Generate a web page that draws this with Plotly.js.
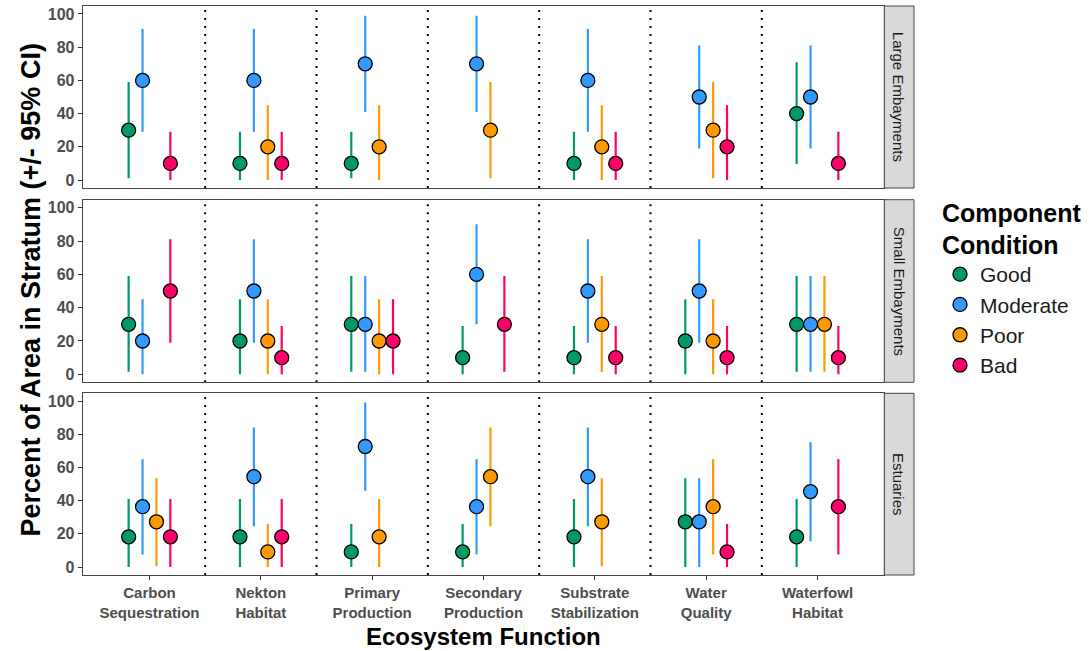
<!DOCTYPE html>
<html>
<head>
<meta charset="utf-8">
<script src="https://cdn.plot.ly/plotly-3.0.1.min.js"></script>
<style>html,body{margin:0;padding:0;background:#fff}</style>
</head>
<body>
<div id="chart" style="width:1090px;height:651px"></div>
<script>
// Ecosystem functions (x categories) and their two-line tick labels
const functionLabels = [
  'Carbon<br>Sequestration', 'Nekton<br>Habitat', 'Primary<br>Production',
  'Secondary<br>Production', 'Substrate<br>Stabilization', 'Water<br>Quality',
  'Waterfowl<br>Habitat'
];
const conditions = ['Good', 'Moderate', 'Poor', 'Bad'];
const conditionColors = ['#009966', '#3399FF', '#FF9900', '#FF0066'];
const strata = ['Large Embayments', 'Small Embayments', 'Estuaries'];

// Large Embayments: estimate, lower and upper 95% CI (percent of area)
const largeGood     = [30, 10, 10, null, 10, null, 40];
const largeGoodLo   = [1, 0, 1, null, 0, null, 9.6];
const largeGoodHi   = [59, 29, 29, null, 29, null, 71];
const largeMod      = [60, 60, 70, 70, 60, 50, 50];
const largeModLo    = [29, 29, 41, 41, 29, 19, 19];
const largeModHi    = [91, 91, 99, 99, 91, 81, 81];
const largePoor     = [null, 20, 20, 30, 20, 30, null];
const largePoorLo   = [null, 0, 0, 1, 0, 1, null];
const largePoorHi   = [null, 45, 45, 59, 45, 59, null];
const largeBad      = [10, 10, null, null, 10, 20, 10];
const largeBadLo    = [0, 0, null, null, 0, 0, 0];
const largeBadHi    = [29, 29, null, null, 29, 45, 29];

// Small Embayments
const smallGood     = [30, 20, 30, 10, 10, 20, 30];
const smallGoodLo   = [1.6, 0, 1.6, 0, 0, 0, 1.6];
const smallGoodHi   = [59, 45, 59, 29, 29, 45, 59];
const smallMod      = [20, 50, 30, 60, 50, 50, 30];
const smallModLo    = [0, 19, 1.6, 30, 19, 19, 1.6];
const smallModHi    = [45, 81, 59, 90, 81, 81, 59];
const smallPoor     = [null, 20, 20, null, 30, 20, 30];
const smallPoorLo   = [null, 0, 0, null, 1.6, 0, 1.6];
const smallPoorHi   = [null, 45, 45, null, 59, 45, 59];
const smallBad      = [50, 10, 20, 30, 10, 10, 10];
const smallBadLo    = [19, 0, 0, 1.6, 0, 0, 0];
const smallBadHi    = [81, 29, 45, 59, 29, 29, 29];

// Estuaries
const estGood       = [18.2, 18.2, 9.1, 9.1, 18.2, 27.3, 18.2];
const estGoodLo     = [0, 0, 0, 0, 0, 0, 0];
const estGoodHi     = [41, 41, 26, 26, 41, 53.6, 41];
const estMod        = [36.4, 54.5, 72.7, 36.4, 54.5, 27.3, 45.5];
const estModLo      = [7.6, 24.6, 46, 7.6, 24.6, 0, 15.6];
const estModHi      = [65, 84.2, 99.2, 65, 84.2, 53.6, 75.2];
const estPoor       = [27.3, 9.1, 18.2, 54.5, 27.3, 36.4, null];
const estPoorLo     = [0.5, 0, 0, 24.6, 0.5, 7.6, null];
const estPoorHi     = [53.6, 26, 41, 84.2, 53.6, 65, null];
const estBad        = [18.2, 18.2, null, null, null, 9.1, 36.4];
const estBadLo      = [0, 0, null, null, null, 0, 7.6];
const estBadHi      = [41, 41, null, null, null, 26, 65];

const panelData = [
  [[largeGood, largeGoodLo, largeGoodHi], [largeMod, largeModLo, largeModHi],
   [largePoor, largePoorLo, largePoorHi], [largeBad, largeBadLo, largeBadHi]],
  [[smallGood, smallGoodLo, smallGoodHi], [smallMod, smallModLo, smallModHi],
   [smallPoor, smallPoorLo, smallPoorHi], [smallBad, smallBadLo, smallBadHi]],
  [[estGood, estGoodLo, estGoodHi], [estMod, estModLo, estModHi],
   [estPoor, estPoorLo, estPoorHi], [estBad, estBadLo, estBadHi]]
];

const W = 1090, H = 651;
const px = v => v / W;
const py = v => 1 - v / H;

// panel geometry (pixel rows of each facet)
const panelLeft = 82.7, panelRight = 884.3, stripRight = 914;
const panelRows = [[6, 188], [199.7, 382.3], [393.3, 575]];

const dodgeWidth = 0.5;
const axisSuffix = ['', '2', '3'];

const traces = [];
panelData.forEach((panel, p) => {
  panel.forEach((series, c) => {
    const [est, lo, hi] = series;
    const offset = (c + 0.5) / conditions.length * dodgeWidth - dodgeWidth / 2;
    const xs = [], ys = [], up = [], dn = [];
    est.forEach((v, i) => {
      if (v === null) return;
      xs.push(i + 1 + offset);
      ys.push(v);
      up.push(hi[i] - v);
      dn.push(v - lo[i]);
    });
    traces.push({
      type: 'scatter', mode: 'markers',
      x: xs, y: ys,
      xaxis: 'x' + axisSuffix[p], yaxis: 'y' + axisSuffix[p],
      name: conditions[c], legendgroup: conditions[c], showlegend: p === 0,
      marker: {size: 14, color: conditionColors[c], line: {color: '#000', width: 1.3}},
      error_y: {type: 'data', symmetric: false, array: up, arrayminus: dn,
                color: conditionColors[c], thickness: 2.2, width: 0},
      hoverinfo: 'skip'
    });
  });
});

const layout = {
  width: W, height: H,
  margin: {l: 0, r: 0, t: 0, b: 0},
  paper_bgcolor: '#fff', plot_bgcolor: '#fff',
  font: {family: 'Liberation Sans, Arial, sans-serif', color: '#000'},
  showlegend: true,
  legend: {
    x: px(940), y: py(189), xanchor: 'left', yanchor: 'top',
    bgcolor: 'rgba(0,0,0,0)',
    title: {text: 'Component<br>Condition', font: {size: 25, weight: 'bold', color: '#000'}},
    font: {size: 21, color: '#1a1a1a'},
    tracegroupgap: 0
  },
  shapes: [], annotations: []
};

panelRows.forEach((row, p) => {
  const xa = {
    domain: [px(panelLeft), px(panelRight)], range: [0.4, 7.6],
    tickvals: [1, 2, 3, 4, 5, 6, 7], ticktext: functionLabels,
    showgrid: false, zeroline: false,
    showline: true, linecolor: '#444', linewidth: 1, mirror: true,
    ticks: p === 2 ? 'outside' : '', ticklen: 4, tickcolor: '#333',
    showticklabels: p === 2,
    tickfont: {size: 15, weight: 'bold', color: '#4D4D4D'},
    anchor: 'y' + axisSuffix[p], automargin: false
  };
  if (p > 0) xa.matches = 'x';
  const ya = {
    domain: [py(row[1]), py(row[0])], range: [-4.8, 104.8],
    tickvals: [0, 20, 40, 60, 80, 100],
    showgrid: false, zeroline: false,
    showline: true, linecolor: '#444', linewidth: 1, mirror: true,
    ticks: 'outside', ticklen: 4, tickcolor: '#333',
    tickfont: {size: 16, weight: 'bold', color: '#4D4D4D'},
    anchor: 'x' + axisSuffix[p], automargin: false
  };
  layout['xaxis' + axisSuffix[p]] = xa;
  layout['yaxis' + axisSuffix[p]] = ya;

  // dotted separators between functions
  for (let k = 1; k < functionLabels.length; k++) {
    layout.shapes.push({
      type: 'line', xref: 'x' + axisSuffix[p], yref: 'y' + axisSuffix[p] + ' domain',
      x0: k + 0.5, x1: k + 0.5, y0: 0, y1: 1, layer: 'below',
      line: {color: '#000', width: 2, dash: '2px,6px'}
    });
  }
  // facet strip
  layout.shapes.push({
    type: 'rect', xref: 'paper', yref: 'paper',
    x0: px(panelRight), x1: px(stripRight), y0: py(row[1]), y1: py(row[0]),
    fillcolor: '#D9D9D9', line: {color: '#444', width: 1}
  });
  layout.annotations.push({
    xref: 'paper', yref: 'paper', xanchor: 'center', yanchor: 'middle',
    x: px((panelRight + stripRight) / 2), y: py((row[0] + row[1]) / 2),
    text: strata[p], textangle: 90, showarrow: false,
    font: {size: 15, color: '#1a1a1a'}
  });
});

// axis titles
layout.annotations.push({
  xref: 'paper', yref: 'paper', xanchor: 'center', yanchor: 'middle',
  x: px(30), y: py(290.5),
  text: 'Percent of Area in Stratum (+/- 95% CI)', textangle: -90, showarrow: false,
  font: {size: 27, weight: 'bold', color: '#000'}
});
layout.annotations.push({
  xref: 'paper', yref: 'paper', xanchor: 'center', yanchor: 'middle',
  x: px((panelLeft + panelRight) / 2), y: py(636),
  text: 'Ecosystem Function', showarrow: false,
  font: {size: 24, weight: 'bold', color: '#000'}
});

Plotly.newPlot('chart', traces, layout, {displayModeBar: false, staticPlot: true});
</script>
</body>
</html>
